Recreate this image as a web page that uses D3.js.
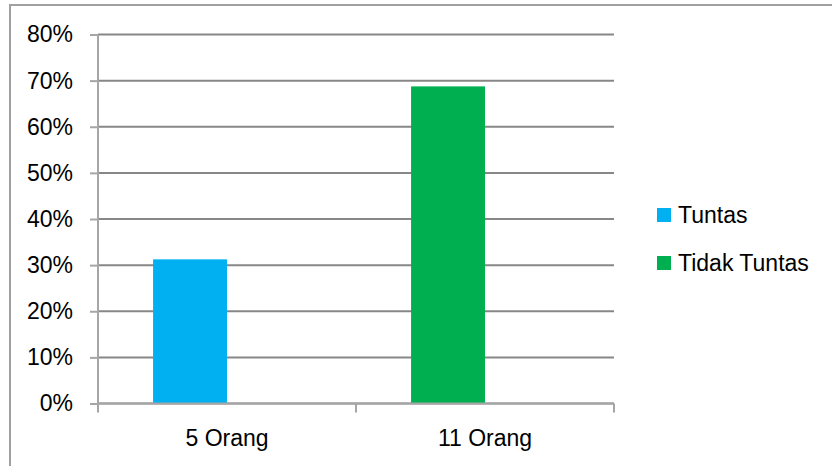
<!DOCTYPE html>
<html>
<head>
<meta charset="utf-8">
<script src="https://cdn.jsdelivr.net/npm/d3@7"></script>
<style>
  body { margin: 0; background: #fff; }
  svg { display: block; font-family: "Liberation Sans", Arial, sans-serif; }
</style>
</head>
<body>
<script>
// data
const categories = ["5 Orang", "11 Orang"];
const seriesNames = ["Tuntas", "Tidak Tuntas"];
const values = [0.3125, 0.6875];          // 5/16 and 11/16
const colors = ["#00B0F0", "#00B050"];
const yTicks = [0, 0.1, 0.2, 0.3, 0.4, 0.5, 0.6, 0.7, 0.8];

const w = 832, h = 466;
const plotLeft = 98, plotRight = 614, plotTop = 34.5, plotBottom = 403.5;

const svg = d3.select("body").append("svg")
    .attr("width", w)
    .attr("height", h);

// chart frame (right/bottom edge fall outside the picture)
svg.append("rect")
    .attr("x", 10).attr("y", 5)
    .attr("width", w).attr("height", h)
    .attr("fill", "none")
    .attr("stroke", "#a0a0a0")
    .attr("stroke-width", 2);

const x = d3.scaleBand().domain(categories).range([plotLeft, plotRight]);
// excel keeps two slots per category, each bar sits in the first one
const xSlot = d3.scaleBand().domain([0, 1]).range([0, x.bandwidth()]).paddingOuter(0.745).paddingInner(0);
const y = d3.scaleLinear().domain([0, 0.8]).range([plotBottom, plotTop]);

// gridlines
svg.append("g")
    .selectAll("line")
    .data(yTicks)
    .enter()
    .append("line")
    .attr("x1", plotLeft).attr("x2", plotRight)
    .attr("y1", d => y(d)).attr("y2", d => y(d))
    .attr("stroke", "#878787")
    .attr("stroke-width", 2);

// y axis
const yAxis = d3.axisLeft(y).tickValues(yTicks).tickFormat(d3.format(".0%")).tickSize(8).tickPadding(17);
svg.append("g")
    .attr("transform", "translate(" + plotLeft + ",0)")
    .call(yAxis)
    .call(g => g.select(".domain").attr("stroke", "#a6a6a6").attr("stroke-width", 2).attr("d", "M0," + (plotBottom + 8) + "V" + plotTop))
    .call(g => g.selectAll(".tick line").attr("stroke", "#a6a6a6").attr("stroke-width", 2))
    .call(g => g.selectAll(".tick text").attr("fill", "#000").style("font-size", "23px"))
    .attr("font-family", null);

// bars
svg.append("g")
    .selectAll("rect")
    .data(values)
    .enter()
    .append("rect")
    .attr("x", (d, i) => x(categories[i]) + xSlot(0))
    .attr("width", xSlot.bandwidth())
    .attr("y", d => y(d))
    .attr("height", d => y(0) - y(d))
    .attr("fill", (d, i) => colors[i]);

// x axis
const xAxis = d3.axisBottom(x).tickSize(0).tickPadding(26);
const gx = svg.append("g")
    .attr("transform", "translate(0," + plotBottom + ")")
    .call(xAxis)
    .call(g => g.select(".domain").attr("stroke", "#a6a6a6").attr("stroke-width", 2).attr("d", "M" + plotLeft + ",0H" + plotRight))
    .call(g => g.selectAll(".tick text").attr("fill", "#000").style("font-size", "23px"))
    .attr("font-family", null);

// category boundary ticks
gx.append("g")
    .selectAll("line")
    .data([plotLeft, ...categories.map(c => x(c) + x.bandwidth())])
    .enter()
    .append("line")
    .attr("x1", d => d).attr("x2", d => d)
    .attr("y1", 0).attr("y2", 9)
    .attr("stroke", "#a6a6a6")
    .attr("stroke-width", 2);

// legend
const legend = svg.append("g").attr("transform", "translate(657,208)");
const item = legend.selectAll("g")
    .data(seriesNames)
    .enter()
    .append("g")
    .attr("transform", (d, i) => "translate(0," + i * 48 + ")");
item.append("rect")
    .attr("width", 14).attr("height", 14)
    .attr("fill", (d, i) => colors[i]);
item.append("text")
    .attr("x", 21).attr("y", 7)
    .attr("dy", "0.35em")
    .style("font-size", "23px")
    .text(d => d);
</script>
</body>
</html>
